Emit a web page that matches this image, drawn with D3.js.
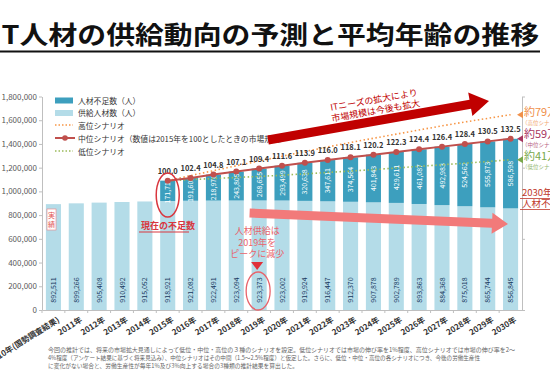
<!DOCTYPE html>
<meta charset="utf-8">
<style>
  body { margin: 0; background: #fff; }
  svg text { font-family: "Noto Sans CJK JP", "Noto Sans", sans-serif; }
</style>
<svg width="550" height="392"></svg>
<script src="https://d3js.org/d3.v7.min.js"></script>
<script>

    // categories on the x axis
    var years = ["2010年(国勢調査結果)", "2011年", "2012年", "2013年", "2014年", "2015年", "2016年",
        "2017年", "2018年", "2019年", "2020年", "2021年", "2022年", "2023年", "2024年", "2025年",
        "2026年", "2027年", "2028年", "2029年", "2030年"];

    // 供給人材数（人）
    var supply = [892511, 899266, 905408, 910492, 915052, 918921, 921082, 922491, 923094, 923373,
        923002, 919924, 916447, 912370, 907878, 902789, 893863, 884368, 875018, 865744, 856845];

    // 人材不足数（人）, middle scenario, from 2015
    var shortage = [null, null, null, null, null, 171719, 191608, 218976, 243805, 268655,
        293499, 320638, 347611, 374564, 401843, 429611, 461087, 492983, 524562, 555873, 586598];

    // 中位シナリオ index (2015 = 100)
    var midIndex = [null, null, null, null, null, 100.0, 102.4, 104.8, 107.1, 109.4,
        111.6, 113.9, 116.0, 118.1, 120.2, 122.3, 124.4, 126.4, 128.4, 130.5, 132.5];

    // shortage in the high / low scenario
    var shortageHigh = [null, null, null, null, null, 171719, 212000, 252000, 293000, 333000,
        373000, 416000, 458000, 500000, 540000, 580000, 624000, 668000, 710000, 750000, 790000];
    var shortageLow = [null, null, null, null, null, 171719, 178000, 186000, 194000, 203000,
        213000, 228000, 243000, 259000, 276000, 294000, 318000, 340000, 363000, 386000, 410000];

    var yTicks = [0, 200000, 400000, 600000, 800000, 1000000, 1200000, 1400000, 1600000, 1800000];

    var footer = [
        "今回の推計では、将来の市場拡大見通しによって低位・中位・高位の３種のシナリオを設定。低位シナリオでは市場の伸び率を1%程度、高位シナリオでは市場の伸び率を2～",
        "4%程度（アンケート結果に基づく将来見込み）、中位シナリオはその中間（1.5～2.5%程度）と仮定した。さらに、低位・中位・高位の各シナリオにつき、今後の労働生産性",
        "に変化がない場合と、労働生産性が毎年1%及び3%向上する場合の3種類の推計結果を算出した。"
    ];

    var cShort = "#3d9fbe", cSupply = "#b4dce8", cMid = "#c0504d", cHigh = "#f79646", cLow = "#9bbb59";

    var svg = d3.select("svg");
    var pLeft = 42, pRight = 522, pTop = 96.5, pBottom = 310;

    var x = d3.scaleBand().domain(years).range([pLeft, pRight]).paddingInner(0.34).paddingOuter(0.17);
    var y = d3.scaleLinear().domain([0, 1800000]).range([pBottom, pTop]);
    var y2 = d3.scaleLinear().domain([0, 150]).range([pBottom, pTop]);
    var cx = function (i) { return x(years[i]) + x.bandwidth() / 2; };

    // title
    svg.append("text")
        .attr("x", -8).attr("y", 44)
        .attr("textLength", 547).attr("lengthAdjust", "spacingAndGlyphs")
        .style("font-size", "25px").style("font-weight", "bold").style("fill", "#111")
        .text("IT人材の供給動向の予測と平均年齢の推移");
    svg.append("line").attr("x1", 0).attr("x2", 540).attr("y1", 51.5).attr("y2", 51.5)
        .attr("stroke", "#111").attr("stroke-width", 2.2);

    // left axis
    var ay = svg.append("g").attr("transform", "translate(" + pLeft + ",0)")
        .call(d3.axisLeft(y).tickValues(yTicks).tickFormat(d3.format(",")).tickSize(3).tickSizeOuter(0));
    ay.select(".domain").attr("stroke", "#bfbfbf");
    ay.selectAll(".tick line").attr("stroke", "#bfbfbf");
    ay.selectAll("text").style("font-size", "8px").style("fill", "#595959").attr("x", -5);

    // right axis (no labels visible)
    var ay2 = svg.append("g").attr("transform", "translate(" + pRight + ",0)")
        .call(d3.axisRight(y2).tickValues([0, 50, 100, 150]).tickSize(3).tickSizeOuter(0).tickFormat(""));
    ay2.select(".domain").attr("stroke", "#bfbfbf");
    ay2.selectAll(".tick line").attr("stroke", "#bfbfbf");

    // supply bars
    svg.selectAll(".sup").data(supply).enter().append("rect")
        .attr("x", function (d, i) { return x(years[i]); })
        .attr("width", x.bandwidth())
        .attr("y", function (d) { return y(d); })
        .attr("height", function (d) { return y(0) - y(d); })
        .attr("fill", cSupply);

    // shortage bars stacked
    shortage.forEach(function (d, i) {
        if (d == null) return;
        svg.append("rect")
            .attr("x", x(years[i]))
            .attr("width", x.bandwidth())
            .attr("y", y(supply[i] + d))
            .attr("height", y(0) - y(d))
            .attr("fill", cShort);
    });

    // x axis
    var ax = svg.append("g").attr("transform", "translate(0," + pBottom + ")")
        .call(d3.axisBottom(x).tickSize(0).tickSizeOuter(0));
    ax.select(".domain").attr("stroke", "#bfbfbf");
    ax.selectAll("text")
        .style("font-size", "8px").style("fill", "#333").style("font-weight", "bold")
        .attr("text-anchor", "end")
        .attr("transform", "translate(2,4) rotate(-32)")
        .attr("dy", "0.7em");
    years.forEach(function (d, i) {
        var xx = x(d) - x.step() * x.paddingInner() / 2;
        svg.append("line").attr("x1", xx).attr("x2", xx).attr("y1", pBottom).attr("y2", pBottom + 3)
            .attr("stroke", "#bfbfbf");
    });

    // value labels inside bars
    supply.forEach(function (d, i) {
        svg.append("text")
            .attr("transform", "translate(" + (cx(i) + 2.5) + ",290) rotate(-90)")
            .attr("text-anchor", "middle")
            .style("font-size", "7px").style("fill", "#17375e")
            .text(d3.format(",")(d));
        if (shortage[i] != null) {
            var ym = y(d + shortage[i] / 2);
            svg.append("text")
                .attr("transform", "translate(" + (cx(i) + 2.5) + "," + ym + ") rotate(-90)")
                .attr("text-anchor", "middle")
                .style("font-size", "7px").style("fill", "#fff")
                .text(d3.format(",")(shortage[i]));
        }
    });

    // scenario lines
    var idx = d3.range(5, years.length);
    var lineOf = function (arr) {
        return d3.line().x(function (i) { return cx(i); }).y(function (i) { return y(supply[i] + arr[i]); })(idx);
    };
    svg.append("path").attr("d", lineOf(shortageHigh)).attr("fill", "none")
        .attr("stroke", cHigh).attr("stroke-width", 1.6).attr("stroke-dasharray", "1.5,2.5");
    svg.append("path").attr("d", lineOf(shortageLow)).attr("fill", "none")
        .attr("stroke", cLow).attr("stroke-width", 1.6).attr("stroke-dasharray", "1.5,2.5");
    svg.append("path").attr("d", lineOf(shortage)).attr("fill", "none")
        .attr("stroke", cMid).attr("stroke-width", 2);
    idx.forEach(function (i) {
        var py = y(supply[i] + shortage[i]);
        svg.append("circle").attr("cx", cx(i)).attr("cy", py).attr("r", 3).attr("fill", cMid);
        svg.append("text").attr("x", cx(i)).attr("y", py - 7)
            .attr("text-anchor", "middle")
            .style("font-size", "7.5px").style("fill", "#333").style("font-weight", "bold")
            .text(midIndex[i].toFixed(1));
    });

    // legend
    var lg = svg.append("g").attr("transform", "translate(55,0)");
    lg.append("rect").attr("x", 0).attr("y", 97.5).attr("width", 18).attr("height", 6).attr("fill", cShort);
    lg.append("rect").attr("x", 0).attr("y", 110).attr("width", 18).attr("height", 6).attr("fill", cSupply);
    lg.append("line").attr("x1", 0).attr("x2", 18).attr("y1", 125).attr("y2", 125)
        .attr("stroke", cHigh).attr("stroke-width", 1.6).attr("stroke-dasharray", "1.5,2");
    lg.append("line").attr("x1", 0).attr("x2", 20).attr("y1", 138).attr("y2", 138)
        .attr("stroke", cMid).attr("stroke-width", 2);
    lg.append("circle").attr("cx", 10).attr("cy", 138).attr("r", 2.8).attr("fill", cMid);
    lg.append("line").attr("x1", 0).attr("x2", 18).attr("y1", 151).attr("y2", 151)
        .attr("stroke", cLow).attr("stroke-width", 1.6).attr("stroke-dasharray", "1.5,2");
    var legTexts = ["人材不足数（人）", "供給人材数（人）", "高位シナリオ", "中位シナリオ（数値は2015年を100としたときの市場規模）", "低位シナリオ"];
    legTexts.forEach(function (t, k) {
        lg.append("text").attr("x", 23).attr("y", 100.5 + k * 12.8 + 3)
            .style("font-size", "7.8px").style("fill", "#333").text(t);
    });

    // arrows
    var arrow = function (x0, y0, x1, y1, t, hw, hl, color) {
        var L = Math.hypot(x1 - x0, y1 - y0), a = Math.atan2(y1 - y0, x1 - x0) * 180 / Math.PI;
        var pts = [[0, -t / 2], [L - hl, -t / 2], [L - hl, -hw / 2], [L, 0], [L - hl, hw / 2], [L - hl, t / 2], [0, t / 2]];
        svg.append("polygon").attr("points", pts.map(function (p) { return p.join(","); }).join(" "))
            .attr("fill", color)
            .attr("transform", "translate(" + x0 + "," + y0 + ") rotate(" + a + ")");
    };
    arrow(268, 140, 489, 101, 9, 24, 19, "#c00000");
    arrow(x("2019年") - 2, 213, 508, 224, 9, 21, 16, "#f27a7a");

    var rot = svg.append("g").attr("transform", "translate(375,106) rotate(-10)");
    rot.append("text").attr("y", -3).attr("text-anchor", "middle")
        .style("font-size", "9px").style("fill", "#c00000").text("ITニーズの拡大により");
    rot.append("text").attr("y", 8).attr("text-anchor", "middle")
        .style("font-size", "9px").style("fill", "#c00000").text("市場規模は今後も拡大");

    // callouts
    var red = "#d9363e";
    svg.append("ellipse").attr("cx", cx(5)).attr("cy", 195).attr("rx", 11.5).attr("ry", 22)
        .attr("fill", "none").attr("stroke", red).attr("stroke-width", 1.5);
    svg.append("text").attr("x", 141).attr("y", 229).style("font-size", "9px").style("fill", red)
        .style("font-weight", "bold").text("現在の不足数");
    svg.append("line").attr("x1", 139).attr("x2", 189).attr("y1", 232).attr("y2", 232)
        .attr("stroke", red).attr("stroke-width", 1);

    svg.append("rect").attr("x", 47).attr("y", 209).attr("width", 9).attr("height", 21)
        .attr("fill", "#fff").attr("stroke", "#f08080").attr("stroke-width", 0.6);
    svg.append("text").attr("x", 51.5).attr("y", 218).attr("text-anchor", "middle")
        .style("font-size", "7px").style("fill", "#e05050").text("実");
    svg.append("text").attr("x", 51.5).attr("y", 227).attr("text-anchor", "middle")
        .style("font-size", "7px").style("fill", "#e05050").text("績");

    var pink = "#e8636b";
    ["人材供給は", "2019年を", "ピークに減少"].forEach(function (t, k) {
        svg.append("text").attr("x", cx(9) - 2).attr("y", 234 + k * 11.5).attr("text-anchor", "middle")
            .style("font-size", "9px").style("fill", pink).text(t);
    });
    svg.append("path")
        .attr("d", d3.line()([[cx(9) - 8, 262], [cx(9) + 4, 262], [cx(9) - 2, 270]]) + "Z")
        .attr("fill", "#e0303a");
    svg.append("ellipse").attr("cx", cx(9) - 1).attr("cy", 291).attr("rx", 12).attr("ry", 19)
        .attr("fill", "none").attr("stroke", pink).attr("stroke-width", 1.3);

    // right-side scenario notes
    var notes = [
        { v: shortageHigh[20], t: "約79万", s: "（高位シナリオ）", c: "#f0904a", ty: 116 },
        { v: shortage[20], t: "約59万", s: "（中位シナリオ）", c: "#a8365f", ty: 138 },
        { v: shortageLow[20], t: "約41万", s: "（低位シナリオ）", c: "#79a84b", ty: 160 }
    ];
    notes.forEach(function (n) {
        var py = y(supply[20] + n.v);
        svg.append("path").attr("d", d3.line()([[517, py], [523, py - 3.5], [523, py + 3.5]]) + "Z")
            .attr("fill", n.c);
        svg.append("text").attr("x", 524).attr("y", n.ty).style("font-size", "11px").style("fill", n.c).text(n.t);
        svg.append("text").attr("x", 522).attr("y", n.ty + 8.5).style("font-size", "5.5px").style("fill", n.c)
            .style("opacity", 0.8).text(n.s);
    });
    ["2030年の", "人材不足"].forEach(function (t, k) {
        svg.append("text").attr("x", 522).attr("y", 196 + k * 11).style("font-size", "9.5px").style("fill", "#c0392b").text(t);
        svg.append("line").attr("x1", 520).attr("x2", 550).attr("y1", 198.5 + k * 11).attr("y2", 198.5 + k * 11)
            .attr("stroke", "#c0392b").attr("stroke-width", 0.8);
    });

    // footer note
    var widths = [467, 432, 250];
    footer.forEach(function (t, k) {
        svg.append("text").attr("x", 48).attr("y", 352 + k * 8)
            .attr("textLength", widths[k]).attr("lengthAdjust", "spacingAndGlyphs")
            .style("font-size", "6px").style("fill", "#666").text(t);
    });

</script>
